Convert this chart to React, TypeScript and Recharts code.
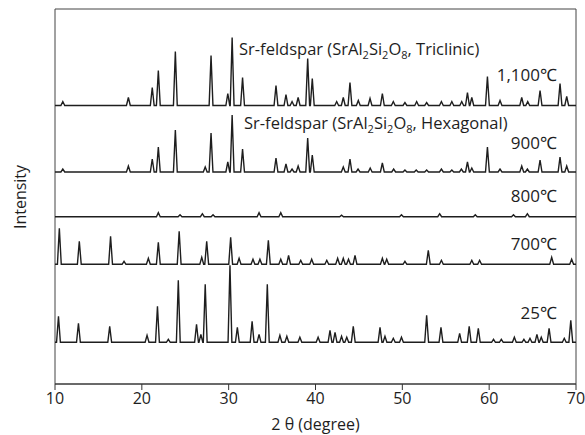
import React from "react";
import {
  LineChart,
  Line,
  XAxis,
  YAxis,
  ReferenceArea,
  Customized,
  Label,
} from "recharts";

// XRD peaks: [2θ, relative peak height]
const peaks1100 = [
  [10.9, 4], [18.45, 8], [21.2, 18], [21.9, 35], [23.86, 54], [27.97, 50],
  [29.9, 12], [30.4, 68], [31.6, 28], [35.45, 20], [36.6, 11], [37.3, 4],
  [38.0, 8], [39.1, 47], [39.63, 27], [42.44, 4], [43.2, 8], [43.97, 23],
  [44.93, 5], [46.28, 7], [47.7, 12], [48.96, 4], [50.3, 3], [51.65, 4],
  [52.8, 3], [54.5, 4], [55.7, 4], [56.84, 4], [57.5, 13], [58.0, 8],
  [59.8, 29], [61.25, 5], [63.75, 8], [64.44, 4], [65.86, 15], [68.16, 22],
  [68.93, 9],
];
const peaks900 = [
  [10.9, 3], [18.45, 6], [21.2, 13], [21.9, 25], [23.86, 42], [27.3, 5],
  [27.97, 39], [29.9, 10], [30.4, 57], [31.6, 23], [35.45, 14], [36.6, 8],
  [37.3, 3], [38.0, 6], [39.1, 34], [39.63, 17], [43.2, 5], [43.97, 13],
  [44.9, 3], [46.3, 4], [47.7, 9], [49.0, 3], [50.3, 2], [51.6, 2],
  [52.8, 2], [54.5, 3], [55.7, 2], [56.8, 3], [57.5, 10], [58.0, 4],
  [59.8, 25], [61.25, 3], [63.75, 6], [64.4, 3], [65.86, 12], [68.16, 15],
  [68.93, 6],
];
const peaks800 = [
  [21.9, 4], [24.4, 2], [26.97, 3], [28.2, 2], [33.5, 4], [36.0, 4],
  [43.0, 1.5], [49.9, 2], [54.3, 3], [58.4, 2], [62.8, 2], [64.4, 3],
];
const peaks700 = [
  [10.5, 36], [12.8, 23], [16.4, 28], [17.95, 3], [20.75, 6], [21.9, 22],
  [24.3, 33], [26.9, 7], [27.47, 23], [30.23, 27], [31.2, 6], [32.8, 5],
  [33.6, 5], [34.57, 24], [36.0, 5], [36.9, 9], [38.3, 4], [39.56, 5],
  [41.3, 4], [42.55, 6], [43.2, 6], [43.8, 5], [44.55, 9], [47.7, 6],
  [48.2, 5], [50.3, 3], [52.99, 14], [54.5, 4], [58.0, 4], [58.9, 4],
  [67.2, 7], [69.5, 5],
];
const peaks25 = [
  [10.4, 26], [12.7, 19], [16.3, 16], [20.6, 7], [21.8, 36], [23.05, 3],
  [24.2, 62], [26.3, 18], [26.8, 8], [27.3, 58], [30.15, 77], [31.0, 15],
  [32.7, 21], [33.5, 8], [34.45, 58], [35.9, 7], [36.7, 6], [38.2, 5],
  [40.3, 5], [41.67, 12], [42.25, 10], [43.0, 6], [43.6, 5], [44.35, 16],
  [47.43, 15], [48.0, 6], [48.96, 4], [49.9, 5], [52.8, 27], [54.45, 15],
  [56.6, 9], [57.7, 16], [58.75, 14], [60.5, 3], [61.4, 3], [62.9, 5],
  [64.0, 3], [64.7, 4], [65.5, 8], [66.0, 5], [66.9, 14], [68.65, 4],
  [69.4, 22],
];

// vertical offset of each pattern in the stack
const offsets = { t1100: 278.5, t900: 212, t800: 167.3, t700: 119.7, t25: 41.7 };
const xTicks = [10, 20, 30, 40, 50, 60, 70];

const HW = 0.22; // half width of a peak foot

function trace(base: number, peaks: number[][]) {
  const pts = [{ x: 10, y: base }];
  peaks.forEach(([p, h]) => {
    pts.push({ x: p - HW, y: base });
    pts.push({ x: p, y: base + h });
    pts.push({ x: p + HW, y: base });
  });
  pts.push({ x: 70, y: base });
  return pts;
}

const series = [
  trace(offsets.t1100, peaks1100),
  trace(offsets.t900, peaks900),
  trace(offsets.t800, peaks800),
  trace(offsets.t700, peaks700),
  trace(offsets.t25, peaks25),
];

const FONT = "'Open Sans', sans-serif";
const INK = "#1e1e1e";

function Formula({ x, y, phase, size }: { x: number; y: number; phase: string; size: number }) {
  return (
    <text x={x} y={y} fontSize={size} fill={INK} fontFamily={FONT}>
      Sr-feldspar (SrAl<tspan dy={4} fontSize={11}>2</tspan>
      <tspan dy={-4}>Si</tspan>
      <tspan dy={4} fontSize={11}>2</tspan>
      <tspan dy={-4}>O</tspan>
      <tspan dy={4} fontSize={11}>8</tspan>
      <tspan dy={-4}>, {phase})</tspan>
    </text>
  );
}

function Annotations() {
  const temp = (y: number, t: string) => (
    <text x={557} y={y} textAnchor="end" fontSize={17} fill={INK} fontFamily={FONT}>
      {t}
    </text>
  );
  return (
    <g>
      <Formula x={239} y={55} phase="Triclinic" size={16.5} />
      <Formula x={244} y={129} phase="Hexagonal" size={16.5} />
      {temp(81, "1,100℃")}
      {temp(149, "900℃")}
      {temp(202, "800℃")}
      {temp(250, "700℃")}
      {temp(319, "25℃")}
      <text
        x={20}
        y={197}
        transform="rotate(-90 20 197)"
        textAnchor="middle"
        dominantBaseline="central"
        fontSize={16}
        fill={INK}
        fontFamily={FONT}
      >
        Intensity
      </text>
    </g>
  );
}

export default function App() {
  return (
    <div style={{ position: "absolute", left: 0, top: 0 }}>
      <LineChart
        width={585}
        height={435}
        margin={{ top: 9, right: 9, left: 55, bottom: 0 }}
        style={{ fontFamily: FONT }}
      >
        <XAxis
          type="number"
          dataKey="x"
          domain={[10, 70]}
          ticks={xTicks}
          allowDataOverflow
          height={51}
          tickSize={6}
          tickMargin={3}
          stroke="#333"
          tick={{ fill: INK, fontSize: 16 }}
        >
          <Label
            value="2 θ (degree)"
            position="insideBottom"
            offset={5}
            fill={INK}
            fontSize={16}
          />
        </XAxis>
        <YAxis type="number" dataKey="y" domain={[0, 375]} hide />
        <ReferenceArea x1={10} x2={70} y1={0} y2={375} fill="none" stroke="#444" strokeWidth={1} />
        {series.map((d, i) => (
          <Line
            key={i}
            data={d}
            dataKey="y"
            type="linear"
            stroke={INK}
            strokeWidth={1.4}
            dot={false}
            isAnimationActive={false}
          />
        ))}
        <Customized component={Annotations} />
      </LineChart>
    </div>
  );
}
